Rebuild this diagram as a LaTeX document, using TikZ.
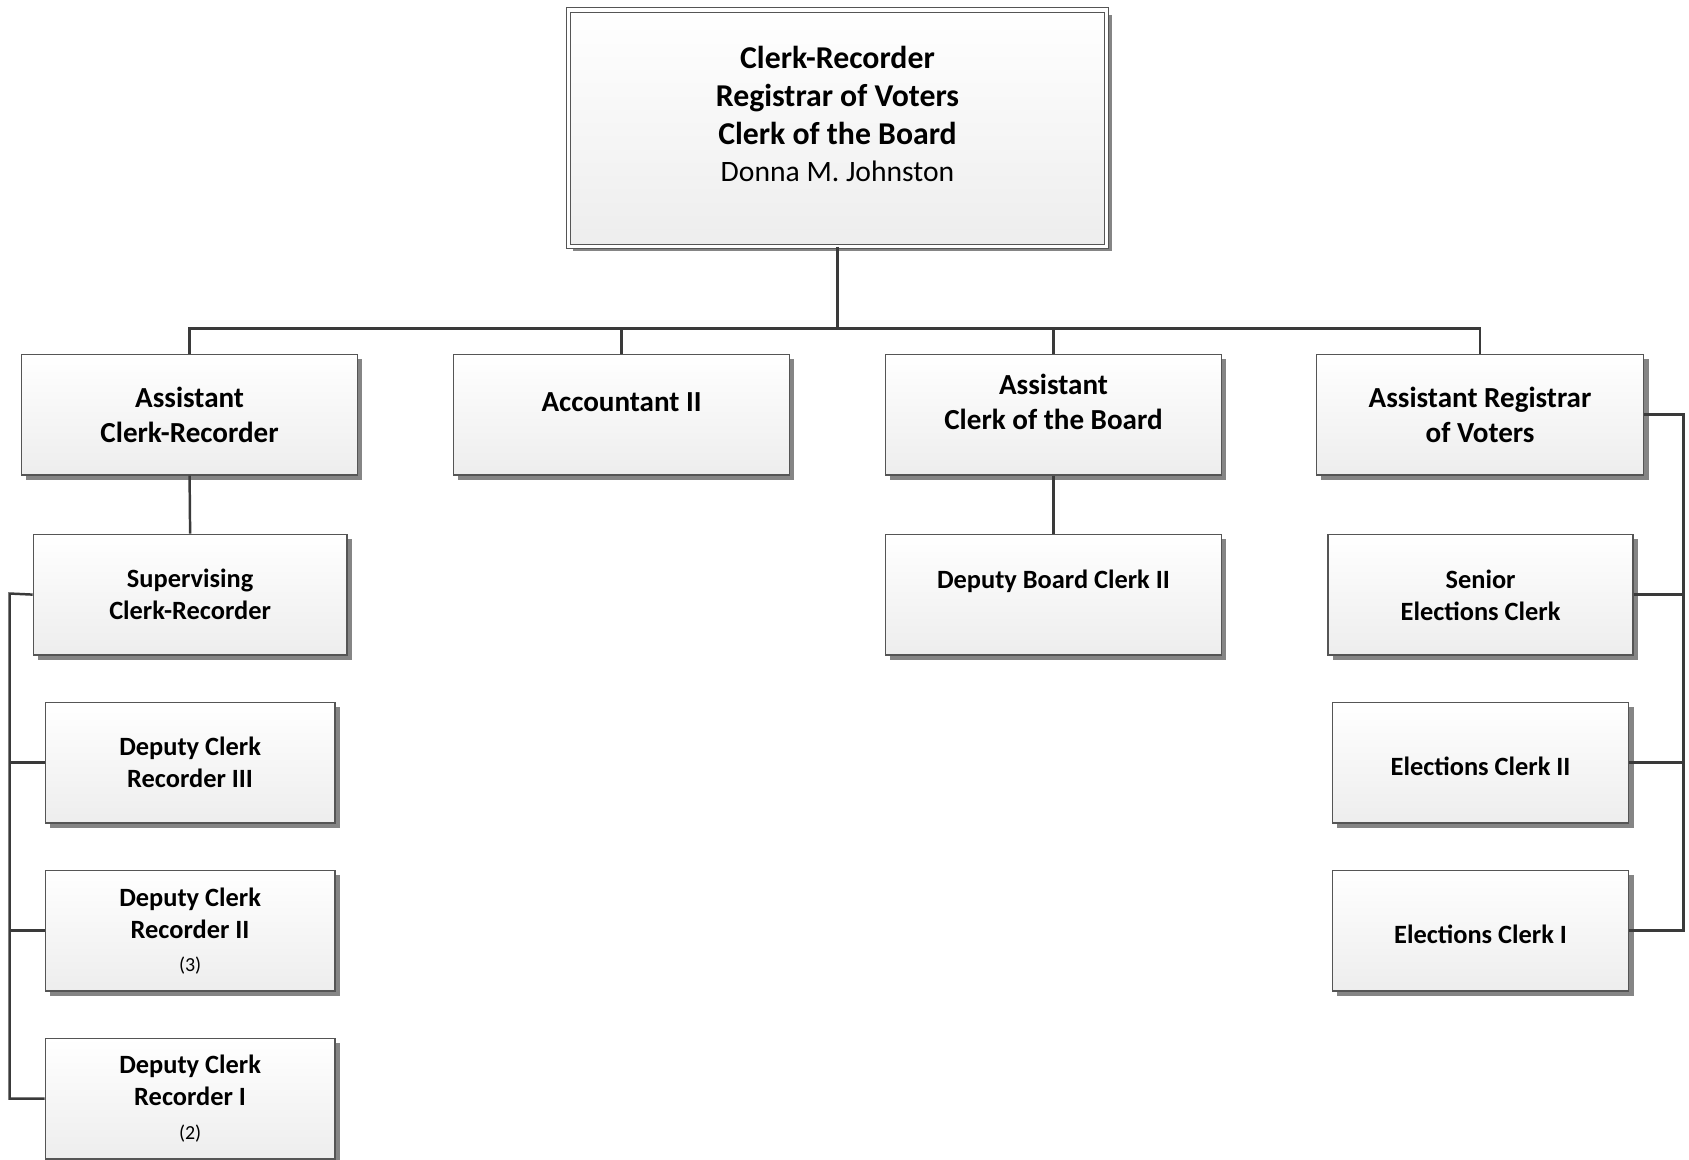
\documentclass[tikz,border=0pt]{standalone}
\usepackage{fontspec}
\setmainfont{Carlito}
\usetikzlibrary{shadows}
\definecolor{boxline}{HTML}{555555}
\definecolor{connc}{HTML}{3A3A3A}
\definecolor{shad}{HTML}{858585}
\begin{document}
\begin{tikzpicture}[x=1pt,y=-1pt,
  box/.style={draw=boxline, line width=1.3pt, top color=white, bottom color=black!7,
    minimum height=112pt, inner sep=0pt,
    drop shadow={shadow xshift=4.5pt, shadow yshift=-4.5pt, fill=shad, opacity=1}},
  conn/.style={draw=connc, line width=2.3pt},
  ttop/.style={font=\bfseries\fontsize{29.5}{35}\selectfont, align=center, inner sep=0pt},
  tmid/.style={font=\bfseries\fontsize{27}{32}\selectfont, align=center, inner sep=0pt},
  tlow/.style={font=\bfseries\fontsize{24.5}{29.5}\selectfont, align=center, inner sep=0pt}]
\useasboundingbox (0,0) rectangle (1568,1076);

% boxes
\node[box, double=white, double distance=3pt, line width=1pt, minimum width=500pt, minimum height=219.5pt] (top) at (777.5,119) {};
\node[box, minimum width=312pt] (a1) at (176,385) {};
\node[box, minimum width=312pt] (a2) at (577,385) {};
\node[box, minimum width=312pt] (a3) at (978,385) {};
\node[box, minimum width=304pt] (a4) at (1374,385) {};
\node[box, minimum width=291pt] (sup) at (176.5,552) {};
\node[box, minimum width=312pt] (dbc) at (978,552) {};
\node[box, minimum width=283pt] (sen) at (1374.5,552) {};
\node[box, minimum width=269pt] (d3) at (176.5,708) {};
\node[box, minimum width=269pt] (d2) at (176.5,864) {};
\node[box, minimum width=269pt] (d1) at (176.5,1020) {};
\node[box, minimum width=275pt] (ec2) at (1374.5,708) {};
\node[box, minimum width=275pt] (ec1) at (1374.5,864) {};

% texts
\node[ttop] (ttop) at (777.5,106) {Clerk-Recorder\\Registrar of Voters\\Clerk of the Board\\{\mdseries\fontsize{27.5}{35}\selectfont Donna M. Johnston}};
\node[tmid] (ta1) at (176,385) {Assistant\\Clerk-Recorder};
\node[tmid] (ta2) at (577,373) {Accountant II};
\node[tmid] (ta3) at (978,373) {Assistant\\Clerk of the Board};
\node[tmid] (ta4) at (1374,385) {Assistant Registrar\\of Voters};
\node[tlow] (tsup) at (176.5,551.5) {Supervising\\Clerk-Recorder};
\node[tlow] (tdbc) at (978,540) {Deputy Board Clerk II};
\node[tlow] (tsen) at (1374.5,552.5) {Senior\\Elections Clerk};
\node[tlow] (td3) at (176.5,707.5) {Deputy Clerk\\Recorder III};
\node[tlow] (td2) at (176.5,864.5) {Deputy Clerk\\Recorder II\\[2pt]{\mdseries\fontsize{18.5}{22}\selectfont (3)}};
\node[tlow] (td1) at (176.5,1020) {Deputy Clerk\\Recorder I\\[2pt]{\mdseries\fontsize{18.5}{22}\selectfont (2)}};
\node[tlow] (tec2) at (1374.5,711) {Elections Clerk II};
\node[tlow] (tec1) at (1374.5,867) {Elections Clerk I};

% connectors
\coordinate (bus) at (777.5,305);
\coordinate (lbus) at (9,551);
\coordinate (rbus) at (1563,385);
\draw[conn] (top.south) -- (bus);
\draw[conn] (a1.north) |- (bus) -| (a4.north);
\draw[conn] (a2.north) -- (a2.north |- bus);
\draw[conn] (a3.north) -- (a3.north |- bus);
\draw[conn] (a1.south) -- (sup.north);
\draw[conn] (a3.south) -- (dbc.north);
\draw[conn] (sup.west) -- (lbus) |- (d1.west);
\draw[conn] (d3.west) -- (d3.west -| lbus);
\draw[conn] (d2.west) -- (d2.west -| lbus);
\draw[conn] (a4.east) -- (rbus) |- (ec1.east);
\draw[conn] (sen.east) -- (sen.east -| rbus);
\draw[conn] (ec2.east) -- (ec2.east -| rbus);
\end{tikzpicture}
\end{document}
